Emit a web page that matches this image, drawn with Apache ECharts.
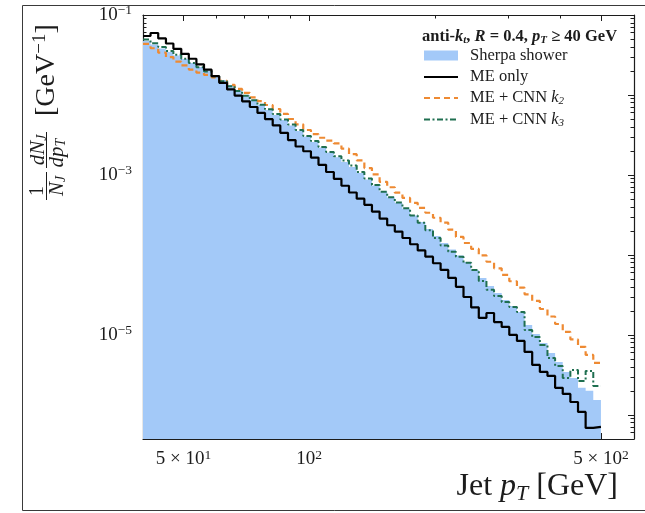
<!DOCTYPE html>
<html>
<head>
<meta charset="utf-8">
<script src="https://cdn.jsdelivr.net/npm/echarts@6/dist/echarts.min.js"></script>
<style>
  html, body { margin: 0; padding: 0; background: #fff; }
  #chart { width: 645px; height: 513px; }
</style>
</head>
<body>
<div id="chart"></div>
<script>
// Jet pT bin edges [GeV] (log-spaced, 60 bins from 40 to 500 GeV)
const binEdges = [40.0, 41.7, 43.5, 45.4, 47.3, 49.4, 51.5, 53.7, 56.0, 58.4, 60.9, 63.6, 66.3, 69.1, 72.1,
  75.2, 78.4, 81.8, 85.3, 89.0, 92.8, 96.8, 101.0, 105.3, 109.8, 114.6, 119.5, 124.6, 130.0, 135.6,
  141.4, 147.5, 153.8, 160.4, 167.3, 174.5, 182.0, 189.8, 198.0, 206.5, 215.4, 224.7, 234.3, 244.4, 254.9,
  265.9, 277.3, 289.2, 301.6, 314.6, 328.1, 342.2, 357.0, 372.3, 388.3, 405.0, 422.4, 440.6, 459.5, 479.3, 500.0];

// 1/N dN/dpT per bin [GeV^-1]
const sherpaShower = [0.0473, 0.0428, 0.0381, 0.0345, 0.0312, 0.0282, 0.0251, 0.0224, 0.0200, 0.0175,
  0.0154, 0.0133, 0.0115, 0.0100, 8.66e-3, 7.50e-3, 6.49e-3, 5.62e-3, 4.87e-3, 4.16e-3,
  3.55e-3, 3.03e-3, 2.59e-3, 2.21e-3, 1.91e-3, 1.66e-3, 1.45e-3, 1.26e-3, 1.06e-3, 8.79e-4,
  7.39e-4, 6.22e-4, 5.23e-4, 4.47e-4, 3.76e-4, 3.12e-4, 2.59e-4, 2.11e-4, 1.73e-4, 1.41e-4,
  1.17e-4, 9.86e-5, 8.18e-5, 6.49e-5, 5.16e-5, 4.10e-5, 3.35e-5, 2.74e-5, 2.30e-5, 1.94e-5,
  1.33e-5, 1.03e-5, 7.94e-6, 5.96e-6, 4.60e-6, 3.45e-6, 2.90e-6, 2.18e-6, 2.00e-6, 1.54e-6];

const meOnly = [0.0546, 0.0596, 0.0509, 0.0440, 0.0378, 0.0327, 0.0284, 0.0242, 0.0207, 0.0172,
  0.0142, 0.01175, 9.83e-3, 8.34e-3, 7.08e-3, 5.96e-3, 4.98e-3, 4.16e-3, 3.36e-3, 2.73e-3,
  2.27e-3, 1.98e-3, 1.65e-3, 1.34e-3, 1.09e-3, 8.94e-4, 7.33e-4, 6.04e-4, 5.06e-4, 4.23e-4,
  3.49e-4, 2.85e-4, 2.35e-4, 1.96e-4, 1.63e-4, 1.36e-4, 1.14e-4, 9.52e-5, 7.87e-5, 6.49e-5,
  5.16e-5, 3.99e-5, 2.98e-5, 2.21e-5, 1.63e-5, 1.88e-5, 1.45e-5, 1.26e-5, 1.00e-5, 8.41e-6,
  6.13e-6, 4.22e-6, 3.45e-6, 3.07e-6, 2.18e-6, 1.83e-6, 1.45e-6, 1.09e-6, 6.88e-7, 7.08e-7];

const meCnnK2 = [0.0435, 0.0384, 0.0338, 0.0298, 0.0262, 0.0234, 0.0208, 0.0190, 0.0178, 0.0166,
  0.0150, 0.0134, 0.0119, 0.0106, 9.36e-3, 8.37e-3, 7.50e-3, 6.68e-3, 5.79e-3, 5.01e-3,
  4.30e-3, 3.65e-3, 3.24e-3, 2.92e-3, 2.69e-3, 2.48e-3, 2.13e-3, 1.82e-3, 1.52e-3, 1.22e-3,
  1.02e-3, 8.20e-4, 7.02e-4, 6.01e-4, 5.17e-4, 4.48e-4, 3.88e-4, 3.37e-4, 2.92e-4, 2.53e-4,
  2.07e-4, 1.68e-4, 1.41e-4, 1.19e-4, 9.89e-5, 8.22e-5, 6.80e-5, 5.65e-5, 4.69e-5, 3.90e-5,
  3.22e-5, 2.66e-5, 2.11e-5, 1.70e-5, 1.37e-5, 1.09e-5, 8.79e-6, 7.08e-6, 5.62e-6, 4.47e-6];

const meCnnK3 = [0.0495, 0.0443, 0.0397, 0.0356, 0.0319, 0.0284, 0.0251, 0.0223, 0.0196, 0.0171,
  0.0149, 0.0129, 0.0112, 9.80e-3, 8.61e-3, 7.54e-3, 6.61e-3, 5.77e-3, 4.95e-3, 4.27e-3,
  3.65e-3, 3.07e-3, 2.65e-3, 2.23e-3, 1.94e-3, 1.72e-3, 1.52e-3, 1.31e-3, 1.09e-3, 9.04e-4,
  7.50e-4, 6.18e-4, 5.26e-4, 4.52e-4, 3.84e-4, 3.11e-4, 2.52e-4, 2.04e-4, 1.63e-4, 1.31e-4,
  1.10e-4, 9.47e-5, 7.99e-5, 6.49e-5, 4.73e-5, 3.68e-5, 3.07e-5, 2.59e-5, 2.24e-5, 1.94e-5,
  1.15e-5, 9.44e-6, 7.50e-6, 5.16e-6, 4.10e-6, 2.90e-6, 3.65e-6, 2.66e-6, 3.55e-6, 2.30e-6];

// Axis ticks and labels
const xMajorTicks = [50, 100, 500];
const xMinorTicks = [40, 60, 70, 80, 90, 200, 300, 400];
const xLabelValues = [50, 100, 500];
const xLabelTexts = ['{b|5 × 10}{s|1}', '{b|10}{s|2}', '{b|5 × 10}{s|2}'];
const yMajorTicks = [1e-6, 1e-5, 1e-4, 1e-3, 1e-2, 1e-1];
const yLabelValues = [1e-5, 1e-3, 1e-1];
const yLabelTexts = ['{b|10}{s|−5}', '{b|10}{s|−3}', '{b|10}{s|−1}'];
const yMinorTicks = [];
for (let e = -7; e <= -2; e++) {
  for (let m = 2; m <= 9; m++) {
    const v = m * Math.pow(10, e);
    if (v >= 5e-7 && v <= 0.1) yMinorTicks.push(v);
  }
}

const X_MIN = 40, X_MAX = 600, Y_MIN = 5e-7, Y_MAX = 0.1;
const SERIF = "'Liberation Serif', 'DejaVu Serif', serif";
const INK = '#1c1c1c';

function stepPoints(vals) {
  const pts = vals.map((v, i) => [binEdges[i], v]);
  pts.push([binEdges[vals.length], vals[vals.length - 1]]);
  return pts;
}

function labelFor(values, texts) {
  return function (v) {
    for (let i = 0; i < values.length; i++) {
      if (Math.abs(Math.log10(v) - Math.log10(values[i])) < 1e-6) return texts[i];
    }
    return '';
  };
}

const labelRich = {
  b: { fontSize: 19, fontFamily: SERIF, color: INK },
  s: { fontSize: 13.5, fontFamily: SERIF, color: INK, padding: [0, 0, 9, 0] }
};
const axisInk = { color: INK, width: 1.2 };

function xAxisDef(position, major, withLine, withLabels) {
  return {
    type: 'log', position: position, min: X_MIN, max: X_MAX,
    axisLine: { show: withLine, onZero: false, lineStyle: axisInk },
    axisTick: { show: true, inside: true, length: major ? 6 : 3.5,
      customValues: major ? xMajorTicks : xMinorTicks, lineStyle: { color: INK, width: 1 } },
    axisLabel: withLabels ? {
      show: true, customValues: xLabelValues, margin: 9,
      formatter: labelFor(xLabelValues, xLabelTexts), rich: labelRich
    } : { show: false },
    splitLine: { show: false }, minorTick: { show: false }
  };
}
function yAxisDef(position, major, withLine, withLabels) {
  return {
    type: 'log', position: position, min: Y_MIN, max: Y_MAX,
    axisLine: { show: withLine, onZero: false, lineStyle: axisInk },
    axisTick: { show: true, inside: true, length: major ? 6 : 3.5,
      customValues: major ? yMajorTicks : yMinorTicks, lineStyle: { color: INK, width: 1 } },
    axisLabel: withLabels ? {
      show: true, customValues: yLabelValues, margin: 11,
      formatter: labelFor(yLabelValues, yLabelTexts), rich: labelRich
    } : { show: false },
    splitLine: { show: false }, minorTick: { show: false }
  };
}

const chart = echarts.init(document.getElementById('chart'), null, { renderer: 'canvas' });

const txt = (o) => Object.assign({ fill: INK, fontFamily: SERIF }, o);
const mathRich = (size) => ({
  i: { fontStyle: 'italic', fontSize: size, fontFamily: SERIF, color: INK },
  r: { fontSize: size, fontFamily: SERIF, color: INK },
  sub: { fontStyle: 'italic', fontSize: Math.round(size * 0.68), fontFamily: SERIF, color: INK, padding: [Math.round(size * 0.45), 0, 0, 0] },
  sup: { fontSize: Math.round(size * 0.68), fontFamily: SERIF, color: INK, padding: [0, 0, Math.round(size * 0.5), 0] }
});
const boldRich = {
  r: { fontSize: 16.5, fontWeight: 'bold', fontFamily: SERIF, color: INK },
  i: { fontSize: 16.5, fontWeight: 'bold', fontStyle: 'italic', fontFamily: SERIF, color: INK },
  sub: { fontSize: 11, fontWeight: 'bold', fontStyle: 'italic', fontFamily: SERIF, color: INK, padding: [7, 0, 0, 0] }
};

const option = {
  animation: false,
  backgroundColor: '#fff',
  grid: { left: 143, top: 15, width: 491, height: 424, containLabel: false },
  xAxis: [
    xAxisDef('bottom', true, true, true),
    xAxisDef('bottom', false, false, false),
    xAxisDef('top', true, true, false),
    xAxisDef('top', false, false, false)
  ],
  yAxis: [
    yAxisDef('left', true, true, true),
    yAxisDef('left', false, false, false),
    yAxisDef('right', true, true, false),
    yAxisDef('right', false, false, false)
  ],
  series: [
    {
      name: 'Sherpa shower', type: 'line', step: 'end', symbol: 'none', z: 1,
      data: stepPoints(sherpaShower),
      lineStyle: { width: 0, color: '#a3c9f8' },
      areaStyle: { color: '#a3c9f8', opacity: 1, origin: 'start' },
      itemStyle: { color: '#a3c9f8' }
    },
    {
      name: 'ME only', type: 'line', step: 'end', symbol: 'none', z: 4,
      data: stepPoints(meOnly),
      lineStyle: { color: '#000', width: 2.2 }
    },
    {
      name: 'ME + CNN k2', type: 'line', step: 'end', symbol: 'none', z: 3,
      data: stepPoints(meCnnK2),
      lineStyle: { color: '#ee8a33', width: 2.2, type: [6, 4] }
    },
    {
      name: 'ME + CNN k3', type: 'line', step: 'end', symbol: 'none', z: 3,
      data: stepPoints(meCnnK3),
      lineStyle: { color: '#1f6f50', width: 2, type: [6, 2.5, 2, 2.5] }
    }
  ],
  graphic: [
    // outer figure frame
    { type: 'rect', shape: { x: 22.5, y: 5.5, width: 640, height: 505 },
      style: { fill: 'none', stroke: '#3a3a3a', lineWidth: 1 }, z: 0, silent: true },
    // y-axis title: 1/N_J dN_J/dp_T [GeV^-1]
    { type: 'group', x: 46, y: 200, rotation: Math.PI / 2, children: [
      { type: 'text', x: 9, y: -8, style: txt({ text: '1', fontSize: 20, align: 'center', verticalAlign: 'middle' }) },
      { type: 'line', shape: { x1: 0, y1: 0.5, x2: 28, y2: 0.5 }, style: { stroke: INK, lineWidth: 1 } },
      { type: 'text', x: 14, y: 11, style: txt({ text: '{i|N}{sub|J}', rich: mathRich(21), align: 'center', verticalAlign: 'middle' }) },
      { type: 'text', x: 50, y: -8, style: txt({ text: '{i|dN}{sub|J}', rich: mathRich(21), align: 'center', verticalAlign: 'middle' }) },
      { type: 'line', shape: { x1: 32, y1: 0.5, x2: 68, y2: 0.5 }, style: { stroke: INK, lineWidth: 1 } },
      { type: 'text', x: 47, y: 11, style: txt({ text: '{i|dp}{sub|T}', rich: mathRich(21), align: 'center', verticalAlign: 'middle' }) },
      { type: 'text', x: 84, y: 1, style: txt({ text: '{r|[GeV}{sup|−1}{r|]}', rich: mathRich(28), align: 'left', verticalAlign: 'middle' }) }
    ] },
    // x-axis title
    { type: 'text', x: 618, y: 487, style: txt({ text: '{r|Jet }{i|p}{sub|T}{r| [GeV]}', rich: mathRich(32), align: 'right', verticalAlign: 'middle' }) },
    // legend
    { type: 'text', x: 422, y: 37, style: txt({ text: '{r|anti-}{i|k}{sub|t}{r|, }{i|R}{r| = 0.4, }{i|p}{sub|T}{r| ≥ 40 GeV}', rich: boldRich, align: 'left', verticalAlign: 'middle' }) },
    { type: 'rect', shape: { x: 424, y: 50.5, width: 34, height: 10 }, style: { fill: '#a3c9f8' } },
    { type: 'text', x: 470, y: 55.5, style: txt({ text: 'Sherpa shower', fontSize: 16.5, align: 'left', verticalAlign: 'middle' }) },
    { type: 'line', shape: { x1: 424, y1: 77, x2: 458, y2: 77 }, style: { stroke: '#000', lineWidth: 2.2 } },
    { type: 'text', x: 470, y: 77, style: txt({ text: 'ME only', fontSize: 16.5, align: 'left', verticalAlign: 'middle' }) },
    { type: 'line', shape: { x1: 424, y1: 98, x2: 458, y2: 98 }, style: { stroke: '#ee8a33', lineWidth: 2.2, lineDash: [6, 4] } },
    { type: 'text', x: 470, y: 98, style: txt({ text: '{r|ME + CNN }{i|k}{sub|2}', rich: mathRich(16.5), align: 'left', verticalAlign: 'middle' }) },
    { type: 'line', shape: { x1: 424, y1: 119.5, x2: 458, y2: 119.5 }, style: { stroke: '#1f6f50', lineWidth: 2, lineDash: [6, 2.5, 2, 2.5] } },
    { type: 'text', x: 470, y: 119.5, style: txt({ text: '{r|ME + CNN }{i|k}{sub|3}', rich: mathRich(16.5), align: 'left', verticalAlign: 'middle' }) }
  ]
};

chart.setOption(option);
</script>
</body>
</html>
